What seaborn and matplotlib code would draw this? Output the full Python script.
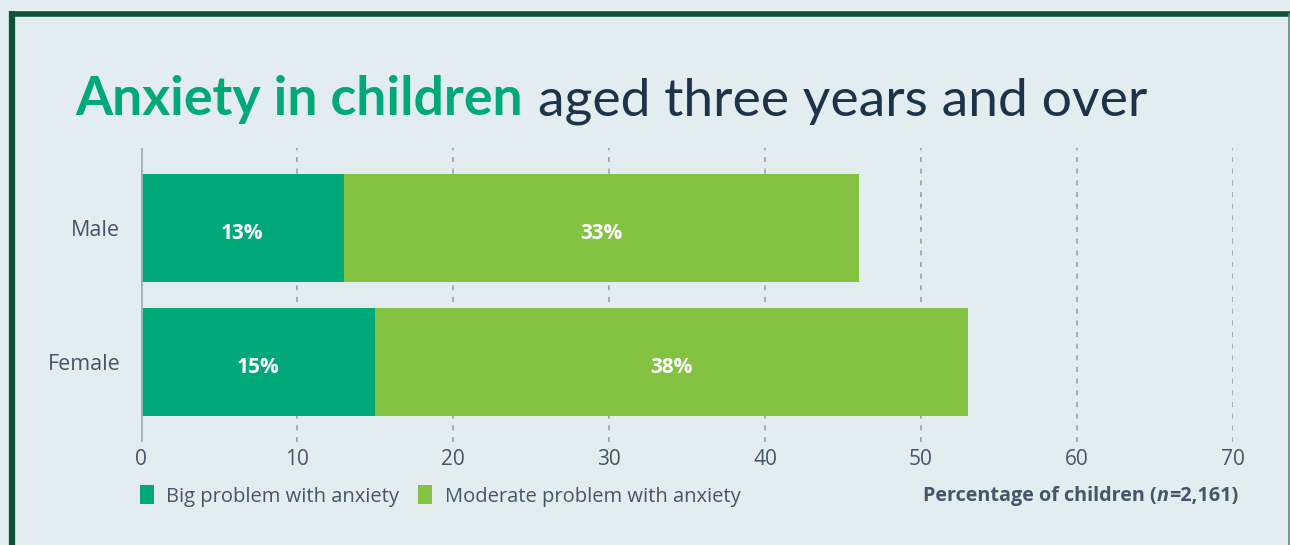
import matplotlib
matplotlib.use("Agg")
import matplotlib.pyplot as plt
import seaborn as sns
import pandas as pd
from matplotlib.patches import Patch
from matplotlib.lines import Line2D

# ---- data ----
groups = ["Male", "Female"]
big_problem = [13, 15]
moderate_problem = [33, 38]
series_names = ["Big problem with anxiety", "Moderate problem with anxiety"]
x_ticks = [0, 10, 20, 30, 40, 50, 60, 70]

BG = "#e3ecee"
DARK_GREEN = "#00a87a"
LIGHT_GREEN = "#84c341"
TEXT = "#44566a"
TITLE_DARK = "#1d3349"
FRAME = "#0b5238"
BODY = ["Open Sans", "DejaVu Sans"]

sns.set_theme(style="white")
plt.rcParams["font.family"] = BODY

df = pd.DataFrame({
    "group": groups,
    "big": big_problem,
    "moderate": moderate_problem,
})
df["total"] = df["big"] + df["moderate"]

fig = plt.figure(figsize=(12.9, 5.45), dpi=100, facecolor=BG)
ax = fig.add_axes([141 / 1290, 1 - 442 / 545, (1233 - 141) / 1290, (442 - 148) / 545])
ax.set_facecolor(BG)

sns.barplot(data=df, x="total", y="group", color=LIGHT_GREEN, width=0.806,
            saturation=1, ax=ax, orient="h")
sns.barplot(data=df, x="big", y="group", color=DARK_GREEN, width=0.806,
            saturation=1, ax=ax, orient="h")
for p in ax.patches:
    p.set_edgecolor("none")
    p.set_linewidth(0)

ax.set_xlim(0, 70)
ax.set_ylim(1.597, -0.597)
ax.set_xticks(x_ticks)
ax.set_xticklabels([str(t) for t in x_ticks], fontsize=15, color=TEXT)
ax.tick_params(axis="x", length=0, pad=5)
ax.tick_params(axis="y", length=0, pad=15)
for lab in ax.get_yticklabels():
    lab.set_fontsize(15.5)
    lab.set_color(TEXT)
ax.set_xlabel("")
ax.set_ylabel("")
for s in ax.spines.values():
    s.set_visible(False)

for t in x_ticks[1:]:
    ax.axvline(t, color="#9aa3ab", linestyle=(0, (3, 4)), linewidth=1.2, zorder=0)
ax.axvline(0, color="#a7b0b7", linewidth=2, zorder=3)

for i, (b, m) in enumerate(zip(big_problem, moderate_problem)):
    ax.text(b / 2, i + 0.04, f"{b}%", ha="center", va="center", color="white",
            fontsize=15, fontweight="bold")
    ax.text(b + m / 2, i + 0.04, f"{m}%", ha="center", va="center", color="white",
            fontsize=15, fontweight="bold")

# title
t1 = fig.text(75 / 1290, 1 - 115 / 545, "Anxiety in children", fontsize=38.5,
              fontweight="bold", color=DARK_GREEN, ha="left", va="baseline",
              family=["Lato", "DejaVu Sans"])
fig.canvas.draw()
bb = t1.get_window_extent()
fig.text((bb.x1 + 15) / 1290, 1 - 115 / 545, "aged three years and over", fontsize=38.5,
         color=TITLE_DARK, ha="left", va="baseline", family=["Lato", "DejaVu Sans"])

# legend
handles = [Patch(facecolor=DARK_GREEN, edgecolor="none"),
           Patch(facecolor=LIGHT_GREEN, edgecolor="none")]
fig.legend(handles, series_names, loc="center left",
           bbox_to_anchor=(132 / 1290, 1 - 496 / 545), ncol=2, frameon=False,
           fontsize=14.5, labelcolor=TEXT, handlelength=0.7, handleheight=1.05,
           handletextpad=0.6, columnspacing=0.95, borderaxespad=0)

# xlabel with italic n
r = fig.canvas.get_renderer()
parts = [("Percentage of children (", "normal"), ("n", "italic"), ("=2,161)", "normal")]
x_end = 1238
widths = []
for s, st in parts:
    tt = fig.text(0, 0, s, fontsize=14.2, fontweight="bold", style=st, color=TEXT)
    widths.append(tt.get_window_extent(r).width)
    tt.remove()
x = x_end - sum(widths)
for (s, st), w in zip(parts, widths):
    fig.text(x / 1290, 1 - 496 / 545, s, fontsize=14.2, fontweight="bold", style=st,
             color=TEXT, ha="left", va="center")
    x += w

# frame
fig.add_artist(Line2D([12 / 1290, 12 / 1290], [0, 1 - 11 / 545], transform=fig.transFigure,
                      color=FRAME, linewidth=4.5, solid_capstyle="butt"))
fig.add_artist(Line2D([9.7 / 1290, 1], [1 - 13.5 / 545, 1 - 13.5 / 545], transform=fig.transFigure,
                      color=FRAME, linewidth=4, solid_capstyle="butt"))
fig.add_artist(Line2D([1289 / 1290, 1289 / 1290], [0, 1 - 13.5 / 545], transform=fig.transFigure,
                      color="#5a8f7a", linewidth=1.2))

fig.savefig("out.png", dpi=100, facecolor=BG)
